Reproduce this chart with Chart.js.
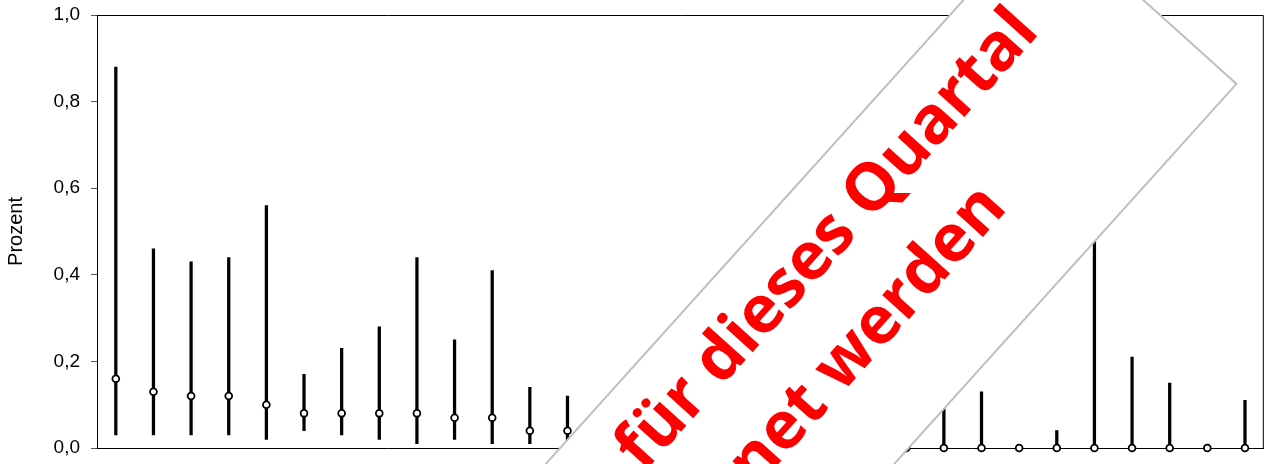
<!DOCTYPE html>
<html lang="de">
<head>
<meta charset="utf-8">
<title>Prozent</title>
<script src="https://cdn.jsdelivr.net/npm/chart.js@4/dist/chart.umd.min.js"></script>
<style>
  html, body { margin: 0; padding: 0; background: #fff; overflow: hidden; }
  canvas { display: block; }
</style>
</head>
<body>
<canvas id="chart" width="1269" height="464"></canvas>
<script>
// Kategorien (auf der x-Achse nicht lesbar)
const labels = ["1", "2", "3", "4", "5", "6", "7", "8", "9", "10", "11", "12", "13", "14", "15", "16",
  "17", "18", "19", "20", "21", "22", "23", "24", "25", "26", "27", "28", "29", "30", "31"];

// Punktschaetzer und Vertrauensbereich, in Prozent
const werte = [0.16, 0.13, 0.12, 0.12, 0.10, 0.08, 0.08, 0.08, 0.08, 0.07, 0.07, 0.04, 0.04, 0.03, 0.03, 0.02,
  0.02, 0.01, 0.01, 0.01, 0.01, 0, 0, 0, 0, 0, 0, 0, 0, 0, 0];
const unten = [0.03, 0.03, 0.03, 0.03, 0.02, 0.04, 0.03, 0.02, 0.01, 0.02, 0.01, 0.01, 0.01, 0.01, 0.01, 0,
  0, 0, 0, 0, 0, 0, 0, 0, 0, 0, 0, 0, 0, 0, 0];
const oben = [0.88, 0.46, 0.43, 0.44, 0.56, 0.17, 0.23, 0.28, 0.44, 0.25, 0.41, 0.14, 0.12, 0.10, 0.15, 0.10,
  0.12, 0.08, 0.09, 0.06, 0.07, 0.06, 0.16, 0.13, 0, 0.04, 0.62, 0.21, 0.15, 0, 0.11];

const yTicks = [0, 0.2, 0.4, 0.6, 0.8, 1.0];

const hinweisZeilen = ["Die Kennzahl kann für dieses Quartal", "nicht berechnet werden"];

// Rahmen oben und rechts
const rahmen = {
  id: "rahmen",
  afterDatasetsDraw(chart) {
    const { ctx, chartArea: a } = chart;
    ctx.save();
    ctx.strokeStyle = "#000";
    ctx.lineWidth = 1;
    ctx.beginPath();
    ctx.moveTo(a.left, a.top + 0.5);
    ctx.lineTo(a.right - 0.5, a.top + 0.5);
    ctx.lineTo(a.right - 0.5, a.bottom);
    ctx.stroke();
    ctx.restore();
  }
};

// schraeges Hinweisband
const hinweis = {
  id: "hinweis",
  afterDraw(chart) {
    const ctx = chart.ctx;
    ctx.save();
    ctx.rotate(-48 * Math.PI / 180);
    ctx.fillStyle = "#fff";
    ctx.strokeStyle = "#bfbfbf";
    ctx.lineWidth = 2;
    ctx.beginPath();
    ctx.rect(-300, 716, 1065, 259);
    ctx.fill();
    ctx.stroke();
    ctx.fillStyle = "#ff0000";
    ctx.font = "bold 66px 'Open Sans'";
    ctx.textAlign = "right";
    ctx.textBaseline = "alphabetic";
    ctx.fillText(hinweisZeilen[0], 672, 795);
    ctx.fillText(hinweisZeilen[1], 520, 889);
    ctx.restore();
  }
};

const ctx = document.getElementById("chart").getContext("2d");

new Chart(ctx, {
  type: "bar",
  data: {
    labels: labels,
    datasets: [{
      type: "line",
      data: werte,
      showLine: false,
      clip: false,
      pointRadius: 3.4,
      pointHoverRadius: 3.4,
      pointBackgroundColor: "#fff",
      pointBorderColor: "#000",
      pointBorderWidth: 1.8,
      order: 0
    }, {
      type: "bar",
      data: unten.map((u, i) => [u, oben[i]]),
      backgroundColor: "#000",
      barThickness: 2.6,
      order: 1
    }]
  },
  options: {
    responsive: false,
    animation: false,
    layout: { padding: { top: 15, right: 2, bottom: 16, left: 0 } },
    plugins: {
      legend: { display: false },
      tooltip: { enabled: false }
    },
    scales: {
      x: {
        offset: true,
        ticks: { display: false },
        grid: { display: false, drawTicks: false },
        border: { display: true, color: "#000", width: 1 }
      },
      y: {
        min: 0,
        max: 1,
        afterFit(scale) {
          scale.width = 97;
          scale.paddingTop = 0;
          scale.paddingBottom = 0;
        },
        afterBuildTicks(scale) { scale.ticks = yTicks.map(v => ({ value: v })); },
        ticks: {
          padding: 11,
          color: "#000",
          font: { family: "Liberation Sans", size: 19 },
          callback: v => v.toFixed(1).replace(".", ",")
        },
        grid: { drawOnChartArea: false, drawTicks: true, tickLength: 6, color: "#555" },
        border: { display: true, color: "#000", width: 1 },
        title: {
          display: true,
          text: "Prozent",
          color: "#000",
          font: { family: "Liberation Sans", size: 20 },
          padding: { top: 4, bottom: 0 }
        }
      }
    }
  },
  plugins: [rahmen, hinweis]
});
</script>
</body>
</html>
